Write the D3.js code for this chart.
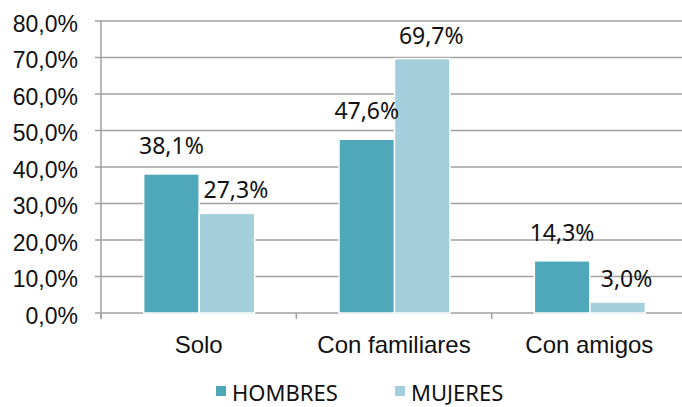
<html>
<head>
<meta charset="utf-8">
<script src="https://d3js.org/d3.v7.min.js"></script>
<style>
body { margin: 0; background: #fff; }
svg { display: block; font-family: 'Noto Sans', 'Open Sans', sans-serif; }
</style>
</head>
<body>
<svg width="682" height="407"></svg>
<script>
// datos
var categorias = ["Solo", "Con familiares", "Con amigos"];
var hombres = [38.1, 47.6, 14.3];
var mujeres = [27.3, 69.7, 3.0];
var series = ["HOMBRES", "MUJERES"];
var yTicks = [0, 10, 20, 30, 40, 50, 60, 70, 80];

var colores = { HOMBRES: "#4fa7ba", MUJERES: "#a3cfdd" };

var svg = d3.select("svg");

// ejes
var x = d3.scaleBand().domain(categorias).range([101, 687]);
var y = d3.scaleLinear().domain([0, 80]).range([313, 21]);
var xSerie = d3.scaleBand().domain(series).range([-55, 56]);

var fmt = function(d) { return d.toFixed(1).replace(".", ",") + "%"; };

// lineas de cuadricula
svg.append("g").selectAll("line").data(yTicks).enter().append("line")
  .attr("x1", 95).attr("x2", 682)
  .attr("y1", function(d) { return y(d); })
  .attr("y2", function(d) { return y(d); })
  .style("stroke", "#a0a0a0").style("stroke-width", 1.5);

var yAxis = d3.axisLeft(y).tickValues(yTicks).tickSize(0).tickPadding(23).tickFormat(fmt);
svg.append("g").attr("transform", "translate(101,0)").call(yAxis)
  .call(function(g) { g.select(".domain").remove(); })
  .selectAll("text").attr("dy", "0.45em").style("font-size", "23px").style("fill", "#111");

svg.append("line").attr("x1", 101).attr("x2", 101).attr("y1", 21).attr("y2", 319)
  .style("stroke", "#a0a0a0").style("stroke-width", 1.5);

// marcas entre categorias
var bordes = [101].concat(categorias.map(function(c) { return x(c) + x.bandwidth(); }));
svg.append("g").selectAll("line").data(bordes).enter().append("line")
  .attr("x1", function(d) { return d; }).attr("x2", function(d) { return d; })
  .attr("y1", 313).attr("y2", 319)
  .style("stroke", "#a0a0a0").style("stroke-width", 1.5);

var xAxis = d3.axisBottom(x).tickSize(0).tickPadding(0);
svg.append("g").attr("transform", "translate(0,313)").call(xAxis)
  .call(function(g) { g.select(".domain").remove(); })
  .selectAll("text").attr("y", 40).attr("dy", null)
  .style("font-size", "24px").style("fill", "#111");

// barras
var datos = [];
categorias.forEach(function(c, i) {
  datos.push({ cat: c, serie: "HOMBRES", v: hombres[i] });
  datos.push({ cat: c, serie: "MUJERES", v: mujeres[i] });
});

var cx = function(d) { return x(d.cat) + x.bandwidth() / 2 + xSerie(d.serie); };

svg.append("g").selectAll("rect").data(datos).enter().append("rect")
  .attr("x", cx)
  .attr("y", function(d) { return y(d.v); })
  .attr("width", xSerie.bandwidth())
  .attr("height", function(d) { return y(0) - y(d.v); })
  .style("fill", function(d) { return colores[d.serie]; })
  .style("stroke", "#fff").style("stroke-width", 1.5);

// etiquetas de valores
svg.append("g").selectAll("text").data(datos).enter().append("text")
  .attr("x", function(d) { return cx(d) + xSerie.bandwidth() / 2 + (d.serie == "MUJERES" ? 9 : 0); })
  .attr("y", function(d) { return y(d.v) - (d.serie == "MUJERES" ? 15 : 20); })
  .attr("text-anchor", "middle")
  .style("font-size", "23px").style("fill", "#111")
  .text(function(d) { return fmt(d.v); });

// leyenda
var leyX = { HOMBRES: 216, MUJERES: 395 };
var ley = svg.append("g").selectAll("g").data(series).enter().append("g")
  .attr("transform", function(d) { return "translate(" + leyX[d] + ",386)"; });
ley.append("rect").attr("width", 10).attr("height", 10)
  .style("fill", function(d) { return colores[d]; });
ley.append("text").attr("x", 16).attr("y", 15)
  .style("font-size", "22px").style("fill", "#111")
  .text(function(d) { return d; });
</script>
</body>
</html>
